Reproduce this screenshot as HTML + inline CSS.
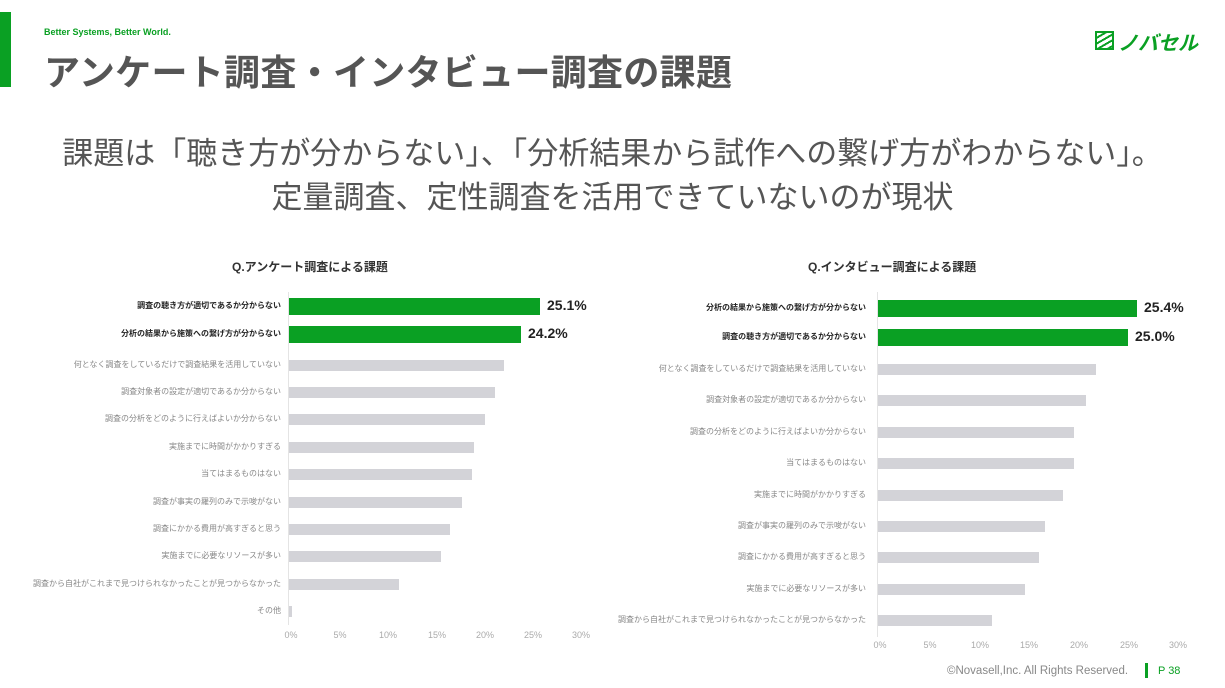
<!DOCTYPE html>
<html><head><meta charset="utf-8"><style>
body{margin:0;width:1225px;height:688px;background:#fff;position:relative;overflow:hidden;font-family:"Liberation Sans","Noto Sans CJK JP",sans-serif;}
.a{position:absolute;white-space:nowrap;}
.lab{position:absolute;font-size:8px;color:#888;text-align:right;white-space:nowrap;}
.lab.b{color:#222;font-weight:bold;}
.bar{position:absolute;background:#d3d3d8;}
.bar.g{background:#0aa023;}
.tick{position:absolute;font-size:9px;color:#aaa;transform:translateX(-50%);}
.val{position:absolute;font-size:14px;font-weight:bold;color:#222;}
</style></head><body>
<div class="a" style="left:0;top:12px;width:11px;height:75px;background:#0aa023"></div>
<div class="a" style="left:44px;top:27px;font-size:9px;font-weight:bold;color:#0aa023">Better Systems, Better World.</div>
<div class="a" style="left:44px;top:44px;font-size:36px;letter-spacing:0.3px;font-weight:bold;color:#555">アンケート調査・インタビュー調査の課題</div>
<div class="a" style="left:1095px;top:31px;width:19px;height:19px;border:2px solid #0aa023;box-sizing:border-box;background:repeating-linear-gradient(150deg,#fff 0 3px,#0aa023 3px 5px)"></div>
<div class="a" style="left:1118px;top:27px;font-size:20px;font-weight:bold;font-style:italic;color:#0aa023">ノバセル</div>
<div class="a" style="left:0;width:1225px;text-align:center;top:128px;font-size:31px;color:#555">課題は「聴き方が分からない」、「分析結果から試作への繋げ方がわからない」。</div>
<div class="a" style="left:0;width:1225px;text-align:center;top:172px;font-size:31px;color:#555">定量調査、定性調査を活用できていないのが現状</div>
<div class="a" style="left:232px;top:258px;font-size:12px;font-weight:bold;color:#333">Q.アンケート調査による課題</div>
<div class="a" style="left:808px;top:258px;font-size:12px;font-weight:bold;color:#333">Q.インタビュー調査による課題</div>
<div class="a" style="left:288px;top:292px;width:1px;height:333px;background:#e4e4e4"></div>
<div class="a" style="left:877px;top:292px;width:1px;height:345px;background:#e4e4e4"></div>
<div id="L"></div>
<div class="a" style="left:947px;top:665px;font-size:11.5px;color:#888">©Novasell,Inc. All Rights Reserved.</div>
<div class="a" style="left:1145px;top:663px;width:3px;height:15px;background:#0aa023"></div>
<div class="a" style="left:1158px;top:665px;font-size:11px;color:#0aa023">P 38</div>
<script>
function chart(x0,endL,labels,ends,ys,ticks,ty,vals){
 let h='';
 labels.forEach((t,i)=>{
  const g=i<2;const hh=g?17:11;
  h+=`<div class="lab${g?' b':''}" style="right:${1225-endL}px;top:${ys[i]-6}px">${t}</div>`;
  h+=`<div class="bar${g?' g':''}" style="left:${x0}px;top:${ys[i]-hh/2}px;width:${ends[i]-x0}px;height:${hh}px"></div>`;
  if(g)h+=`<div class="val" style="left:${ends[i]+7}px;top:${ys[i]-9}px">${vals[i]}</div>`;
 });
 ticks.forEach((x,i)=>{h+=`<div class="tick" style="left:${x}px;top:${ty}px">${i*5}%</div>`});
 return h;
}
const L1=["調査の聴き方が適切であるか分からない","分析の結果から施策への繋げ方が分からない","何となく調査をしているだけで調査結果を活用していない","調査対象者の設定が適切であるか分からない","調査の分析をどのように行えばよいか分からない","実施までに時間がかかりすぎる","当てはまるものはない","調査が事実の羅列のみで示唆がない","調査にかかる費用が高すぎると思う","実施までに必要なリソースが多い","調査から自社がこれまで見つけられなかったことが見つからなかった","その他"];
const L2=["分析の結果から施策への繋げ方が分からない","調査の聴き方が適切であるか分からない","何となく調査をしているだけで調査結果を活用していない","調査対象者の設定が適切であるか分からない","調査の分析をどのように行えばよいか分からない","当てはまるものはない","実施までに時間がかかりすぎる","調査が事実の羅列のみで示唆がない","調査にかかる費用が高すぎると思う","実施までに必要なリソースが多い","調査から自社がこれまで見つけられなかったことが見つからなかった"];
document.getElementById('L').innerHTML=
 chart(289,281,L1,[540,521,504,495,485,474,472,462,450,441,399,292],[306,334,365,392,419,447,474,502,529,556,584,611],[291,340,388,437,485,533,581],630,["25.1%","24.2%"])+
 chart(878,866,L2,[1137,1128,1096,1086,1074,1074,1063,1045,1039,1025,992],[308,337,369,400,432,463,495,526,557,589,620],[880,930,980,1029,1079,1129,1178],640,["25.4%","25.0%"]);
</script>
</body></html>
